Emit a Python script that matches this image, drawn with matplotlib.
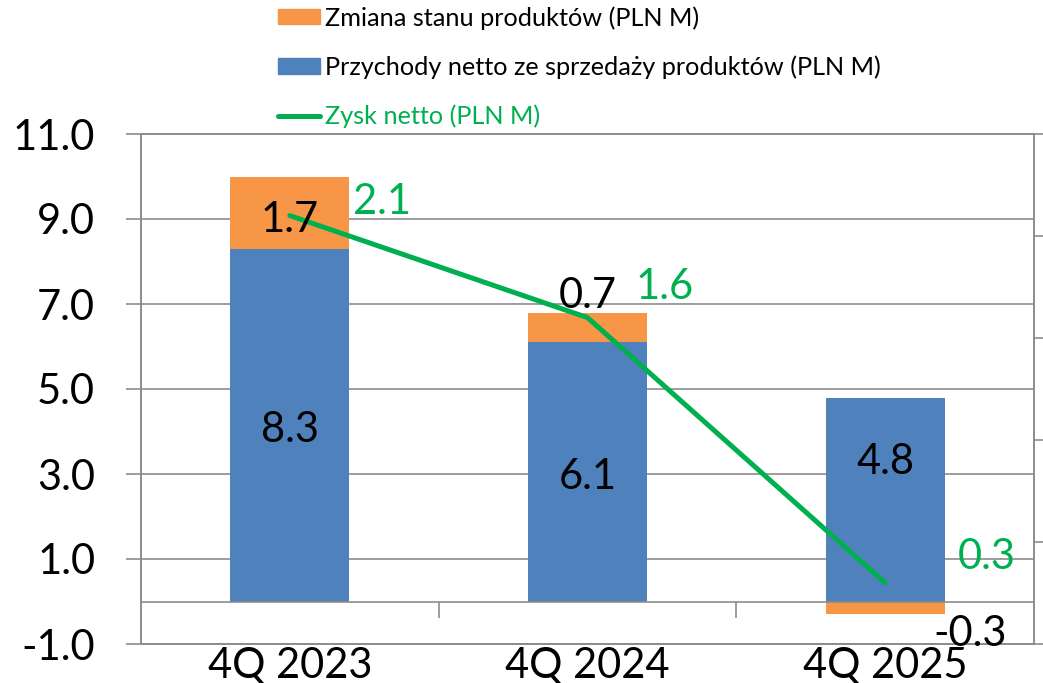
import matplotlib.pyplot as plt
from matplotlib.lines import Line2D
from matplotlib.patches import Patch

# data
quarters = ['4Q 2023', '4Q 2024', '4Q 2025']
przychody = [8.3, 6.1, 4.8]      # Przychody netto ze sprzedaży produktów (PLN M)
zmiana = [1.7, 0.7, -0.3]        # Zmiana stanu produktów (PLN M)
zysk = [2.1, 1.6, 0.3]           # Zysk netto (PLN M), right axis

# label offsets from anchor point, pixels (dx, dy up) - text centre
blue_off = [(0, -2), (0, -2), (0, 40)]
orange_off = [(0, -4), (0, 34), (85, -23)]
green_off = [(92, 17), (77, 34), (102, 29)]

BLUE = '#4F81BD'
ORANGE = '#F79646'
GREEN = '#00B050'
GRID = '#8C8C8C'
FS = 30
CAP = 15  # half the digit height in px, for baseline placement

plt.rcParams['font.family'] = ['Lato', 'DejaVu Sans']

fig = plt.figure(figsize=(10.43, 6.83), dpi=100)
ax = fig.add_axes([141 / 1043, 1 - 644 / 683, (1034 - 141) / 1043, 510 / 683])
x = list(range(len(quarters)))

bottoms = [p if z >= 0 else 0 for p, z in zip(przychody, zmiana)]
ax.bar(x, przychody, width=0.4, color=BLUE, zorder=2)
ax.bar(x, zmiana, width=0.4, bottom=bottoms, color=ORANGE, zorder=2)

ax.set_xlim(-0.5, 2.5)
ax.set_ylim(-1, 11)
ax.set_yticks([-1, 1, 3, 5, 7, 9, 11])
ax.set_yticklabels([f'{v:.1f}' for v in [-1, 1, 3, 5, 7, 9, 11]])
ax.yaxis.grid(True, color=GRID, lw=1.2)
ax.set_axisbelow(True)
ax.axhline(0, color=GRID, lw=1.2, zorder=2.5)
ax.set_xticks(x)
ax.set_xticklabels(quarters)
ax.tick_params(axis='x', length=0, labelsize=FS, pad=2)
ax.tick_params(axis='y', length=11, width=1.2, color=GRID, labelsize=FS, pad=22)
for s in ax.spines.values():
    s.set_color(GRID)
    s.set_linewidth(1.2)

# category separators on the zero line
sec = ax.secondary_xaxis(1 / 12)
sec.set_xticks([0.5, 1.5])
sec.set_xticklabels(['', ''])
sec.tick_params(axis='x', length=11.5, width=1.2, color=GRID, direction='out')
sec.spines['bottom'].set_visible(False)

ax2 = ax.twinx()
ax2.set_ylim(0, 2.5)
ax2.set_yticks([0, 0.5, 1.0, 1.5, 2.0, 2.5])
ax2.tick_params(axis='y', length=11, width=1.2, color=GRID, labelright=False)
for s in ax2.spines.values():
    s.set_color(GRID)
    s.set_linewidth(1.2)
ax2.plot(x, zysk, color=GREEN, lw=3.6, solid_capstyle='round', zorder=3)

for i in x:
    dx, dy = blue_off[i]
    ax2.annotate(f'{przychody[i]:.1f}', xy=(i, przychody[i] / 2), xycoords=ax.transData,
                 xytext=(dx, dy - CAP), textcoords='offset pixels',
                 ha='center', va='baseline', fontsize=FS, color='black', zorder=5)
    dx, dy = orange_off[i]
    ax2.annotate(f'{zmiana[i]:.1f}', xy=(i, bottoms[i] + zmiana[i] / 2), xycoords=ax.transData,
                 xytext=(dx, dy - CAP), textcoords='offset pixels',
                 ha='center', va='baseline', fontsize=FS, color='black', zorder=5)
    dx, dy = green_off[i]
    ax2.annotate(f'{zysk[i]:.1f}', xy=(i, zysk[i]),
                 xytext=(dx, dy - CAP), textcoords='offset pixels',
                 ha='center', va='baseline', fontsize=FS, color=GREEN, zorder=5)

handles = [Patch(color=ORANGE), Patch(color=BLUE),
           Line2D([], [], color=GREEN, lw=3.6, solid_capstyle='round')]
labels = ['Zmiana stanu produktów (PLN M)',
          'Przychody netto ze sprzedaży produktów (PLN M)',
          'Zysk netto (PLN M)']
leg = fig.legend(handles, labels, loc='upper left', bbox_to_anchor=(278 / 1043, 1 - 6 / 683),
                 frameon=False, fontsize=18.2, handlelength=1.65, handleheight=0.55,
                 handletextpad=0.2, labelspacing=1.02, borderpad=0, borderaxespad=0)
leg.get_texts()[2].set_color(GREEN)

fig.savefig('out.png', dpi=100, facecolor='white')
